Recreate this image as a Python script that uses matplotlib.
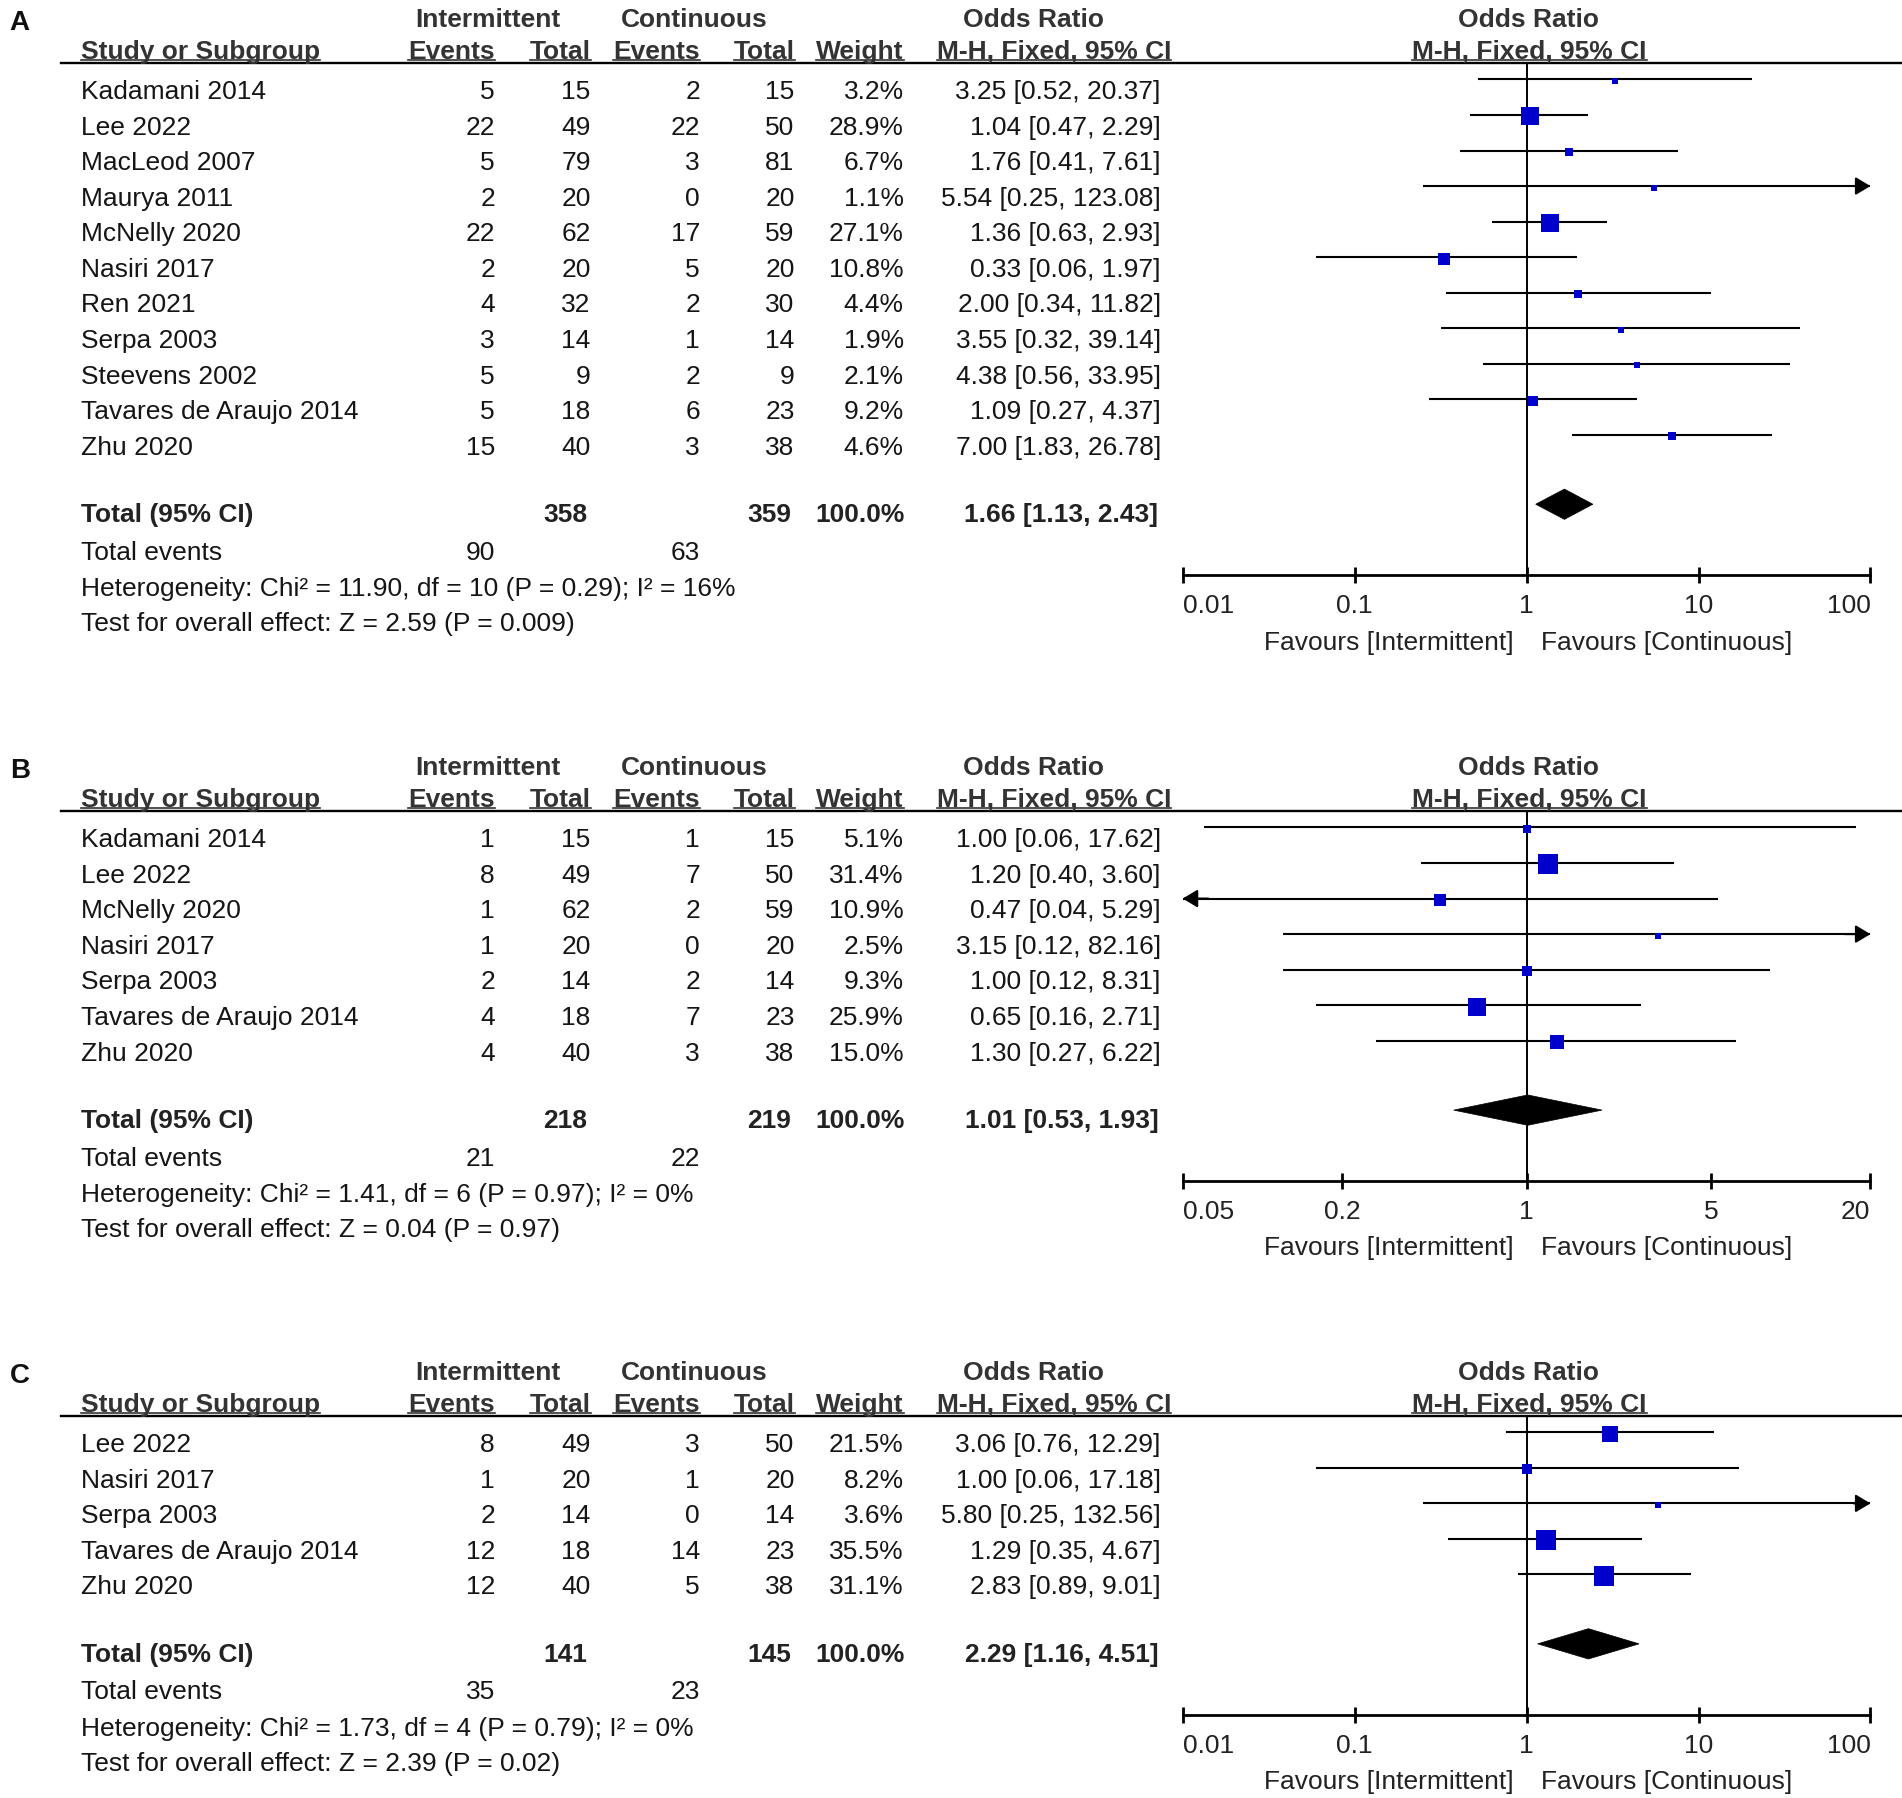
import numpy as np
import matplotlib.pyplot as plt
from matplotlib.patches import Polygon

plt.rcParams['font.family'] = ['Liberation Sans', 'DejaVu Sans']

# ---- data ----
studies_a = ["Kadamani 2014", "Lee 2022", "MacLeod 2007", "Maurya 2011", "McNelly 2020",
             "Nasiri 2017", "Ren 2021", "Serpa 2003", "Steevens 2002",
             "Tavares de Araujo 2014", "Zhu 2020"]
int_ev_a = [5, 22, 5, 2, 22, 2, 4, 3, 5, 5, 15]
int_tot_a = [15, 49, 79, 20, 62, 20, 32, 14, 9, 18, 40]
con_ev_a = [2, 22, 3, 0, 17, 5, 2, 1, 2, 6, 3]
con_tot_a = [15, 50, 81, 20, 59, 20, 30, 14, 9, 23, 38]
weight_a = [3.2, 28.9, 6.7, 1.1, 27.1, 10.8, 4.4, 1.9, 2.1, 9.2, 4.6]
or_a = [3.25, 1.04, 1.76, 5.54, 1.36, 0.33, 2.00, 3.55, 4.38, 1.09, 7.00]
lo_a = [0.52, 0.47, 0.41, 0.25, 0.63, 0.06, 0.34, 0.32, 0.56, 0.27, 1.83]
hi_a = [20.37, 2.29, 7.61, 123.08, 2.93, 1.97, 11.82, 39.14, 33.95, 4.37, 26.78]
total_a = [358, 359, 1.66, 1.13, 2.43]
events_a = [90, 63]
het_a = "Heterogeneity: Chi² = 11.90, df = 10 (P = 0.29); I² = 16%"
test_a = "Test for overall effect: Z = 2.59 (P = 0.009)"
ticks_a = [0.01, 0.1, 1, 10, 100]
ticklabels_a = ["0.01", "0.1", "1", "10", "100"]

studies_b = ["Kadamani 2014", "Lee 2022", "McNelly 2020", "Nasiri 2017", "Serpa 2003",
             "Tavares de Araujo 2014", "Zhu 2020"]
int_ev_b = [1, 8, 1, 1, 2, 4, 4]
int_tot_b = [15, 49, 62, 20, 14, 18, 40]
con_ev_b = [1, 7, 2, 0, 2, 7, 3]
con_tot_b = [15, 50, 59, 20, 14, 23, 38]
weight_b = [5.1, 31.4, 10.9, 2.5, 9.3, 25.9, 15.0]
or_b = [1.00, 1.20, 0.47, 3.15, 1.00, 0.65, 1.30]
lo_b = [0.06, 0.40, 0.04, 0.12, 0.12, 0.16, 0.27]
hi_b = [17.62, 3.60, 5.29, 82.16, 8.31, 2.71, 6.22]
total_b = [218, 219, 1.01, 0.53, 1.93]
events_b = [21, 22]
het_b = "Heterogeneity: Chi² = 1.41, df = 6 (P = 0.97); I² = 0%"
test_b = "Test for overall effect: Z = 0.04 (P = 0.97)"
ticks_b = [0.05, 0.2, 1, 5, 20]
ticklabels_b = ["0.05", "0.2", "1", "5", "20"]

studies_c = ["Lee 2022", "Nasiri 2017", "Serpa 2003", "Tavares de Araujo 2014", "Zhu 2020"]
int_ev_c = [8, 1, 2, 12, 12]
int_tot_c = [49, 20, 14, 18, 40]
con_ev_c = [3, 1, 0, 14, 5]
con_tot_c = [50, 20, 14, 23, 38]
weight_c = [21.5, 8.2, 3.6, 35.5, 31.1]
or_c = [3.06, 1.00, 5.80, 1.29, 2.83]
lo_c = [0.76, 0.06, 0.25, 0.35, 0.89]
hi_c = [12.29, 17.18, 132.56, 4.67, 9.01]
total_c = [141, 145, 2.29, 1.16, 4.51]
events_c = [35, 23]
het_c = "Heterogeneity: Chi² = 1.73, df = 4 (P = 0.79); I² = 0%"
test_c = "Test for overall effect: Z = 2.39 (P = 0.02)"
ticks_c = [0.01, 0.1, 1, 10, 100]
ticklabels_c = ["0.01", "0.1", "1", "10", "100"]

# ---- layout (units of a 1568-wide canvas, y down) ----
W = 1568.0
H = 1799 * W / 1902
FS = 19
INK = "#151515"
HEAD = "#333333"
BLUE = "#0000CC"
ROW = 29.3
X_STUDY, X_IEV, X_ITOT, X_CEV, X_CTOT, X_W, X_OR = 67, 408, 487, 577, 655, 745, 957
F_LEFT, F_RIGHT = 975, 1542

fig = plt.figure(figsize=(19.02, 17.99), dpi=100)
bg = fig.add_axes([0, 0, 1, 1])
bg.set_xlim(0, W)
bg.set_ylim(H, 0)
bg.axis("off")


def txt(x, y, s, ha="left", bold=False, size=FS, color=None):
    return bg.text(x, y, s, ha=ha, va="baseline", fontsize=size,
                   fontweight="bold" if bold else "normal",
                   color=color or (HEAD if bold else INK))


underlined = []
arrow_style = dict(arrowstyle="-|>,head_length=0.5,head_width=0.3", mutation_scale=18,
                   lw=1.5, color="black", shrinkA=0, shrinkB=0)


def panel(off, label, studies, ie, it, ce, ct, w, orv, lo, hi, total, events,
          het, test, ticks, ticklabels):
    txt(8, off + 25, label, bold=True, size=20, color="#111111")
    # header
    for x, s in [(402, "Intermittent"), (572, "Continuous"), (852, "Odds Ratio"),
                 (1260, "Odds Ratio")]:
        txt(x, off + 22, s, ha="center", bold=True)
    for x, s, ha in [(X_STUDY, "Study or Subgroup", "left"), (X_IEV, "Events", "right"),
                     (X_ITOT, "Total", "right"), (X_CEV, "Events", "right"),
                     (X_CTOT, "Total", "right"), (X_W, "Weight", "right"),
                     (869, "M-H, Fixed, 95% CI", "center"),
                     (1261, "M-H, Fixed, 95% CI", "center")]:
        underlined.append((txt(x, off + 48.9, s, ha=ha, bold=True), off + 50.6))
    bg.plot([50, W], [off + 52.6, off + 52.6], color="black", lw=1.7)

    base = off + 81.8 + np.arange(len(studies)) * ROW
    for i, s in enumerate(studies):
        y = base[i]
        txt(X_STUDY, y, s)
        txt(X_IEV, y, str(ie[i]), ha="right")
        txt(X_ITOT, y, str(it[i]), ha="right")
        txt(X_CEV, y, str(ce[i]), ha="right")
        txt(X_CTOT, y, str(ct[i]), ha="right")
        txt(X_W, y, f"{w[i]:.1f}%", ha="right")
        txt(X_OR, y, f"{orv[i]:.2f} [{lo[i]:.2f}, {hi[i]:.2f}]", ha="right")

    ytot = base[-1] + 55.7
    txt(X_STUDY, ytot, "Total (95% CI)", bold=True, color="#222222")
    txt(X_ITOT - 3, ytot, str(total[0]), ha="right", bold=True, color="#222222")
    txt(X_CTOT - 3, ytot, str(total[1]), ha="right", bold=True, color="#222222")
    txt(X_W + 1, ytot, "100.0%", ha="right", bold=True, color="#222222")
    txt(X_OR - 2, ytot, f"{total[2]:.2f} [{total[3]:.2f}, {total[4]:.2f}]",
        ha="right", bold=True, color="#222222")
    txt(X_STUDY, ytot + 31, "Total events")
    txt(X_IEV, ytot + 31, str(events[0]), ha="right")
    txt(X_CEV, ytot + 31, str(events[1]), ha="right")
    txt(X_STUDY, ytot + 61, het)
    txt(X_STUDY, ytot + 90, test)

    # forest plot axes
    top = off + 52.6
    bot = ytot + 44.5
    ax = fig.add_axes([F_LEFT / W, 1 - bot / H, (F_RIGHT - F_LEFT) / W, (bot - top) / H])
    ax.set_xscale("log")
    ax.set_xlim(ticks[0], ticks[-1])
    ax.set_ylim(bot, top)
    ax.patch.set_alpha(0)
    for sp in ["top", "left", "right"]:
        ax.spines[sp].set_visible(False)
    ax.spines["bottom"].set_linewidth(2)
    ax.set_yticks([])
    ax.set_xticks(ticks)
    ax.set_xticklabels(ticklabels)
    ax.minorticks_off()
    ax.tick_params(axis="x", direction="inout", length=11, width=2, pad=7.5,
                   labelsize=FS, labelcolor="#222222")
    labels = ax.get_xticklabels()
    labels[0].set_ha("left")
    labels[-1].set_ha("right")
    ax.axvline(1, color="black", lw=1.4, zorder=1)

    xmin, xmax = ticks[0], ticks[-1]
    for i in range(len(studies)):
        y = base[i] - 15.5
        a, b = max(lo[i], xmin), min(hi[i], xmax)
        ax.plot([a, b], [y, y], color="black", lw=1.5, zorder=2, solid_capstyle="butt")
        if hi[i] > xmax:
            ax.annotate("", xy=(xmax, y), xytext=(xmax * 0.8, y), arrowprops=arrow_style)
        if lo[i] < xmin:
            ax.annotate("", xy=(xmin, y), xytext=(xmin * 1.25, y), arrowprops=arrow_style)
        ms = max(4.0, 2.5 * np.sqrt(w[i]))
        ax.plot(orv[i], y + 1.2, marker="s", ms=ms, color=BLUE, mec=BLUE, mew=0, zorder=3)

    yd = ytot - 14
    hd = 12.5
    dia = Polygon([(total[3], yd), (total[2], yd - hd), (total[4], yd), (total[2], yd + hd)],
                  closed=True, facecolor="black", edgecolor="black", lw=0.5, zorder=3)
    ax.add_patch(dia)

    txt(1248, bot + 60.5, "Favours [Intermittent]", ha="right", color="#222222")
    txt(1270, bot + 60.5, "Favours [Continuous]", ha="left", color="#222222")


panel(0, "A", studies_a, int_ev_a, int_tot_a, con_ev_a, con_tot_a, weight_a, or_a, lo_a, hi_a,
      total_a, events_a, het_a, test_a, ticks_a, ticklabels_a)
panel(616.7, "B", studies_b, int_ev_b, int_tot_b, con_ev_b, con_tot_b, weight_b, or_b, lo_b, hi_b,
      total_b, events_b, het_b, test_b, ticks_b, ticklabels_b)
panel(1115.3, "C", studies_c, int_ev_c, int_tot_c, con_ev_c, con_tot_c, weight_c, or_c, lo_c, hi_c,
      total_c, events_c, het_c, test_c, ticks_c, ticklabels_c)

# underline the column headers
fig.canvas.draw()
renderer = fig.canvas.get_renderer()
inv = bg.transData.inverted()
for t, yu in underlined:
    bb = t.get_window_extent(renderer)
    x0 = inv.transform((bb.x0, bb.y0))[0]
    x1 = inv.transform((bb.x1, bb.y0))[0]
    bg.plot([x0, x1], [yu, yu], color=HEAD, lw=1.2)

fig.savefig("out.png", dpi=100)
